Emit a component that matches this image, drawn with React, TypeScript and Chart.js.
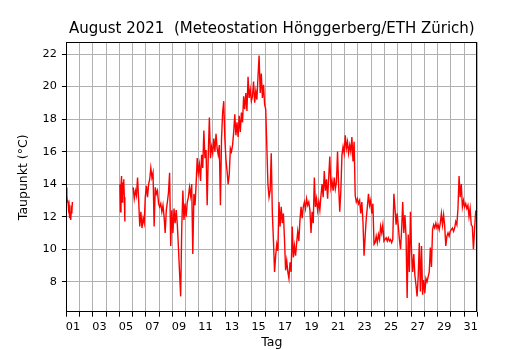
import React, { useEffect, useRef } from "react";
import { Chart, registerables } from "chart.js";

Chart.register(...registerables);

const TITLE = "August 2021  (Meteostation Hönggerberg/ETH Zürich)";
const X_LABEL = "Tag";
const Y_LABEL = "Taupunkt (°C)";

// day boundaries (days since Aug 1 00:00) and labels at noon of odd days
const dayTicks = [0, 1, 2, 3, 4, 5, 6, 7, 8, 9, 10, 11, 12, 13, 14, 15, 16, 17, 18, 19, 20, 21, 22, 23, 24, 25, 26, 27, 28, 29, 30, 31];
const dayLabels = ["01", "03", "05", "07", "09", "11", "13", "15", "17", "19", "21", "23", "25", "27", "29", "31"];
const yTicks = [8, 10, 12, 14, 16, 18, 20, 22];

// segment 1: hourly from Aug 1 00:00
const seg1StartHour = 0;
const seg1StepHours = 1;
const seg1Values = [13.8, 13.3, 12.9, 13.0, 12.5, 12.7, 11.9, 12.3, 11.8, 12.4, 12.2, 12.9];

// segment 2: hourly from Aug 5 01:00
const seg2StartHour = 97;
const seg2StepHours = 1;
const seg2Values = [14.0, 12.3, 13.9, 14.5, 12.9, 14.1, 13.4, 14.3, 13.2, 11.7];

// segment 3: every 2 hours from Aug 6 01:00
const seg3StartHour = 121;
const seg3StepHours = 2;
const aug06to12 = [
  13.8, 13.1, 13.6, 13.3, 14.4, 13.0, 11.4, 12.3, 11.3, 11.9, 11.6, 13.2,
  13.9, 13.2, 14.0, 14.3, 15.0, 14.4, 14.7, 11.4, 13.8, 13.4, 13.6, 12.8,
  12.6, 12.8, 12.3, 12.7, 12.0, 11.0, 12.4, 12.9, 13.5, 14.7, 10.2, 12.4,
  11.0, 12.5, 11.6, 12.4, 11.5, 10.1, 8.6, 7.1, 11.3, 13.6, 11.8, 12.8,
  12.0, 12.9, 13.2, 13.8, 13.3, 14.0, 9.7, 13.4, 12.7, 14.0, 15.6, 14.7,
  15.2, 14.2, 15.8, 15.0, 17.3, 15.6, 16.1, 12.7, 15.8, 18.1, 15.6, 16.3,
  15.9, 16.8, 16.0, 17.1, 16.2, 15.8, 16.4, 12.7, 16.8, 18.4, 19.1, 16.8,
];
const aug13to19 = [
  15.5, 14.8, 14.0, 14.6, 16.2, 16.0, 16.4, 17.2, 18.3, 17.0, 17.8, 16.9,
  18.2, 17.2, 18.4, 17.8, 19.4, 18.6, 19.6, 18.5, 20.6, 19.3, 19.8, 19.1,
  19.4, 20.3, 19.0, 19.7, 19.2, 20.6, 21.9, 19.6, 20.8, 19.3, 20.1, 18.9,
  18.6, 16.3, 14.0, 13.2, 13.6, 15.9, 12.2, 10.5, 8.6, 9.6, 10.3, 9.9,
  12.9, 11.4, 12.6, 11.6, 12.2, 10.6, 8.7, 9.3, 8.6, 8.2, 9.2, 8.6,
  11.4, 9.5, 10.2, 9.6, 10.4, 11.1, 10.5, 11.8, 12.6, 11.9, 12.6, 12.9,
  12.5, 13.1, 12.7, 12.9, 12.4, 11.0, 12.3, 11.6, 14.4, 12.6, 13.1, 12.4,
];
const aug20to26 = [
  12.9, 12.4, 13.3, 14.0, 13.2, 14.8, 13.6, 14.3, 13.1, 14.4, 15.7, 13.8,
  14.2, 13.6, 14.4, 13.7, 14.1, 16.0, 13.9, 12.3, 13.6, 15.8, 16.3, 15.9,
  17.0, 16.2, 16.6, 15.9, 16.4, 16.0, 16.9, 15.4, 16.6, 13.3, 12.9, 13.1,
  12.8, 13.0, 12.2, 12.9, 11.7, 9.6, 10.8, 11.9, 12.6, 13.4, 12.7, 13.0,
  12.2, 12.8, 10.3, 10.4, 10.8, 10.4, 10.9, 10.6, 11.4, 11.0, 11.5, 10.5,
  10.6, 10.7, 10.5, 10.7, 10.5, 10.6, 10.4, 10.6, 13.4, 12.5, 11.5, 12.2,
  11.4, 10.6, 10.0, 11.2, 12.9, 11.0, 12.1, 10.8, 7.0, 10.9, 8.6, 12.3,
];
const aug27to31 = [
  9.8, 8.6, 9.7, 8.4, 7.8, 7.1, 8.3, 10.4, 7.4, 10.2, 7.2, 8.1,
  7.3, 8.2, 8.0, 8.3, 8.6, 10.1, 8.9, 11.2, 11.5, 11.3, 11.6, 11.3,
  11.5, 11.2, 11.6, 12.2, 11.5, 12.1, 11.4, 10.2, 10.8, 11.0, 10.8, 11.1,
  11.2, 11.3, 11.1, 11.3, 11.7, 11.5, 12.5, 14.5, 13.2, 14.0, 12.6, 13.0,
  12.6, 12.8, 12.5, 12.7, 12.0, 12.5, 11.5, 11.4, 10.0, 11.2, 12.3, 12.2,
];

const X_MIN = 0;
const X_MAX = 31;
const Y_MIN = 6.12;
const Y_MAX = 22.72;

function toPoints(startHour: number, stepHours: number, values: number[]) {
  return values.map((v, i) => ({ x: (startHour + i * stepHours) / 24, y: v }));
}

const FONT = "'DejaVu Sans', 'Liberation Sans', sans-serif";

export default function App() {
  const ref = useRef<HTMLCanvasElement | null>(null);

  useEffect(() => {
    if (!ref.current) return;
    Chart.defaults.font.family = FONT;
    const seg3Values = [...aug06to12, ...aug13to19, ...aug20to26, ...aug27to31];
    const lineStyle = {
      borderColor: "#ff0000",
      borderWidth: 1.4,
      pointRadius: 0,
      fill: false,
      tension: 0,
    };
    const framePlugin = {
      id: "frame",
      afterDatasetsDraw(chart: any) {
        const { ctx, chartArea } = chart;
        const l = Math.round(chartArea.left) + 0.5;
        const t = Math.round(chartArea.top) + 0.5;
        const r = Math.round(chartArea.right) - 0.5;
        const b = Math.round(chartArea.bottom) - 0.5;
        ctx.save();
        ctx.strokeStyle = "#000";
        ctx.lineWidth = 1;
        ctx.strokeRect(l, t, r - l, b - t);
        ctx.restore();
      },
    };
    const chart = new Chart(ref.current, {
      type: "line",
      data: {
        datasets: [
          { data: toPoints(seg1StartHour, seg1StepHours, seg1Values), ...lineStyle },
          { data: toPoints(seg2StartHour, seg2StepHours, seg2Values), ...lineStyle },
          { data: toPoints(seg3StartHour, seg3StepHours, seg3Values), ...lineStyle },
        ],
      },
      options: {
        animation: false,
        responsive: false,
        events: [],
        layout: { padding: { left: 0, right: 52.7, top: 0, bottom: 0 } },
        plugins: {
          legend: { display: false },
          tooltip: { enabled: false },
          title: {
            display: true,
            text: TITLE,
            fullSize: false,
            color: "#000",
            font: { family: FONT, size: 15, weight: "normal", lineHeight: 1.2 },
            padding: { top: 20.1, bottom: 4.2 },
          },
        },
        scales: {
          x: {
            type: "linear",
            min: X_MIN,
            max: X_MAX,
            afterBuildTicks: (s: any) => {
              s.ticks = dayTicks.map((v) => ({ value: v }));
            },
            afterFit: (s: any) => {
              s.height = 37.7;
            },
            grid: { color: "#b0b0b0", lineWidth: 1, tickColor: "#000", tickLength: 4.4, drawTicks: true },
            border: { display: false },
            ticks: {
              autoSkip: false,
              maxRotation: 0,
              minRotation: 0,
              labelOffset: 6.63,
              padding: 3.35,
              color: "#000",
              font: { family: FONT, size: 11.25, lineHeight: 1.2 },
              callback: (v: any) => {
                const d = Number(v);
                return d % 2 === 0 && d < 31 ? dayLabels[d / 2] : "";
              },
            },
            title: {
              display: true,
              text: X_LABEL,
              color: "#000",
              font: { family: FONT, size: 12.5, lineHeight: 1.2 },
              padding: { top: 0, bottom: 0 },
            },
          },
          y: {
            type: "linear",
            min: Y_MIN,
            max: Y_MAX,
            afterBuildTicks: (s: any) => {
              s.ticks = yTicks.map((v) => ({ value: v }));
            },
            afterFit: (s: any) => {
              s.width = 66.3;
            },
            grid: { color: "#b0b0b0", lineWidth: 1, tickColor: "#000", tickLength: 4.4, drawTicks: true },
            border: { display: false },
            ticks: {
              padding: 5,
              color: "#000",
              font: { family: FONT, size: 11.25, lineHeight: 1.2 },
              callback: (v: any) => String(v),
            },
            title: {
              display: true,
              text: Y_LABEL,
              color: "#000",
              font: { family: FONT, size: 12.5, lineHeight: 1.2 },
              padding: { top: 16.6, bottom: 0 },
            },
          },
        },
      } as any,
      plugins: [framePlugin],
    });
    return () => chart.destroy();
  }, []);

  return (
    <div style={{ position: "absolute", left: 0, top: 0, width: 530, height: 350, background: "#fff" }}>
      <canvas ref={ref} width={530} height={350} style={{ display: "block", width: 530, height: 350 }} />
    </div>
  );
}
